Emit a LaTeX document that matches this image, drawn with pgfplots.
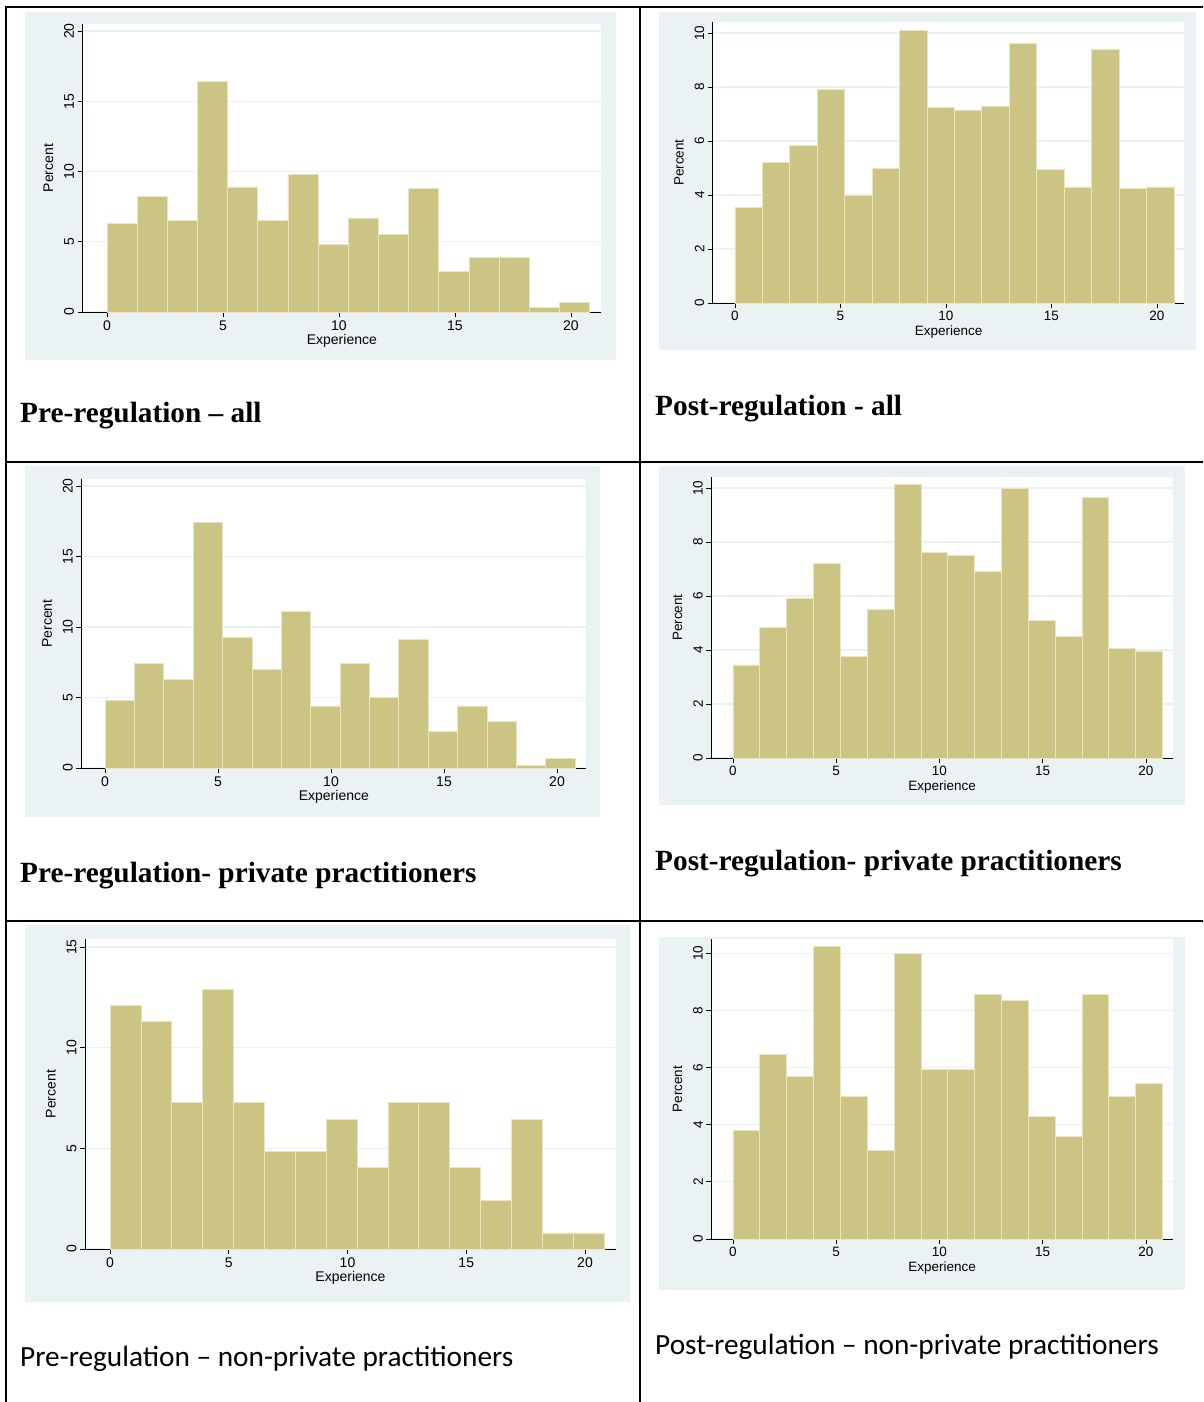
\documentclass[border=0pt]{standalone}
\usepackage{fontspec}
\setmainfont{Liberation Serif}
\newfontfamily\arial{Liberation Sans}
\newfontfamily\calibri{Carlito}
\usepackage{pgfplots}
\pgfplotsset{compat=1.18}
\definecolor{statabg}{RGB}{234,242,243}
\definecolor{khaki}{RGB}{204,196,131}
\definecolor{barline}{RGB}{233,229,194}
\definecolor{gridc}{RGB}{233,241,243}
\pgfplotsset{
  stata/.style={
    scale only axis,
    anchor=south west,
    axis x line*=bottom, axis y line*=left,
    axis line style={black, line width=0.9pt},
    axis background/.style={fill=white},
    xmin=-1.05, xmax=21.3, ymin=0,
    xtick={0,5,10,15,20},
    tick align=outside,
    major tick length=5pt,
    tick style={black, line width=0.8pt},
    ymajorgrids,
    major grid style={gridc, line width=1.2pt},
    /pgf/number format/assume math mode=true,
    tick label style={font=\arial\fontsize{14}{16}\selectfont},
    label style={font=\arial\fontsize{14}{16}\selectfont},
    yticklabel style={rotate=90, anchor=south},
    xlabel={Experience},
    ylabel={Percent},
    xlabel style={yshift=2.5pt},
    ylabel style={yshift=4pt},
  },
  hist/.style={ybar interval, fill=khaki, draw=barline, line width=0.7pt},
}
\begin{document}
\begin{tikzpicture}
\useasboundingbox (0,0) rectangle (1203pt,-1402pt);
\clip (0,0) rectangle (1203pt,-1402pt);
% panel backgrounds
\fill[statabg] (25pt,-12pt) rectangle (616pt,-360pt);
\fill[statabg] (659pt,-12pt) rectangle (1196pt,-350pt);
\fill[statabg] (25pt,-466pt) rectangle (600pt,-817pt);
\fill[statabg] (659pt,-466pt) rectangle (1185pt,-805pt);
\fill[statabg] (25pt,-925pt) rectangle (630pt,-1302pt);
\fill[statabg] (659pt,-937pt) rectangle (1185pt,-1290pt);

% Panel 1: Pre-regulation all
\begin{axis}[stata, at={(82.6pt,-312pt)}, width=518.5pt, height=288pt, ymax=20.5, ytick={0,5,10,15,20}]
\addplot[hist] coordinates {(0,6.3) (1.3,8.2) (2.6,6.5) (3.9,16.4) (5.2,8.9) (6.5,6.5) (7.8,9.8) (9.1,4.8) (10.4,6.7) (11.7,5.5) (13.0,8.8) (14.3,2.9) (15.6,3.9) (16.9,3.9) (18.2,0.3) (19.5,0.7) (20.8,0.7)};
\end{axis}

% Panel 2: Post-regulation all
\begin{axis}[stata, at={(712.8pt,-303pt)}, width=471.6pt, height=280.8pt, ymax=10.4, ytick={0,2,4,6,8,10},
  tick label style={font=\arial\fontsize{13.5}{15}\selectfont}, label style={font=\arial\fontsize{13.5}{15}\selectfont}]
\addplot[hist] coordinates {(0,3.55) (1.3,5.2) (2.6,5.85) (3.9,7.9) (5.2,4.0) (6.5,5.0) (7.8,10.1) (9.1,7.25) (10.4,7.15) (11.7,7.3) (13.0,9.6) (14.3,4.95) (15.6,4.3) (16.9,9.4) (18.2,4.25) (19.5,4.3) (20.8,4.3)};
\end{axis}

% Panel 3: Pre-regulation private
\begin{axis}[stata, at={(81.3pt,-768pt)}, width=505.1pt, height=289pt, ymax=20.5, ytick={0,5,10,15,20}]
\addplot[hist] coordinates {(0,4.8) (1.3,7.4) (2.6,6.3) (3.9,17.4) (5.2,9.3) (6.5,7.0) (7.8,11.1) (9.1,4.4) (10.4,7.4) (11.7,5.0) (13.0,9.1) (14.3,2.6) (15.6,4.4) (16.9,3.3) (18.2,0.2) (19.5,0.7) (20.8,0.7)};
\end{axis}

% Panel 4: Post-regulation private
\begin{axis}[stata, at={(711.3pt,-758pt)}, width=461.5pt, height=280.8pt, ymax=10.4, ytick={0,2,4,6,8,10},
  tick label style={font=\arial\fontsize{13.5}{15}\selectfont}, label style={font=\arial\fontsize{13.5}{15}\selectfont}]
\addplot[hist] coordinates {(0,3.45) (1.3,4.85) (2.6,5.9) (3.9,7.2) (5.2,3.75) (6.5,5.5) (7.8,10.15) (9.1,7.6) (10.4,7.5) (11.7,6.9) (13.0,10.0) (14.3,5.1) (15.6,4.5) (16.9,9.65) (18.2,4.05) (19.5,3.95) (20.8,3.95)};
\end{axis}

% Panel 5: Pre-regulation non-private
\begin{axis}[stata, at={(85.1pt,-1249pt)}, width=530.8pt, height=310pt, ymax=15.4, ytick={0,5,10,15}]
\addplot[hist] coordinates {(0,12.1) (1.3,11.3) (2.6,7.3) (3.9,12.9) (5.2,7.3) (6.5,4.85) (7.8,4.85) (9.1,6.45) (10.4,4.05) (11.7,7.3) (13.0,7.3) (14.3,4.05) (15.6,2.4) (16.9,6.45) (18.2,0.8) (19.5,0.8) (20.8,0.8)};
\end{axis}

% Panel 6: Post-regulation non-private
\begin{axis}[stata, at={(711.3pt,-1239pt)}, width=461.5pt, height=300pt, ymax=10.5, ytick={0,2,4,6,8,10},
  tick label style={font=\arial\fontsize{13.5}{15}\selectfont}, label style={font=\arial\fontsize{13.5}{15}\selectfont}]
\addplot[hist] coordinates {(0,3.8) (1.3,6.45) (2.6,5.7) (3.9,10.25) (5.2,5.0) (6.5,3.1) (7.8,10.0) (9.1,5.95) (10.4,5.95) (11.7,8.55) (13.0,8.35) (14.3,4.3) (15.6,3.6) (16.9,8.55) (18.2,5.0) (19.5,5.45) (20.8,5.45)};
\end{axis}

% table rules
\draw[black, line width=2.2pt] (5pt,-7pt) -- (1210pt,-7pt);
\draw[black, line width=2.2pt] (6pt,-6pt) -- (6pt,-1410pt);
\draw[black, line width=2.2pt] (640pt,-6pt) -- (640pt,-1410pt);
\draw[black, line width=2.2pt] (5pt,-462pt) -- (1210pt,-462pt);
\draw[black, line width=2.2pt] (5pt,-921pt) -- (1210pt,-921pt);

% captions
\node[anchor=base west, inner sep=0pt, font=\bfseries\fontsize{29.3}{34}\selectfont] at (20pt,-422pt) {Pre-regulation \textendash{} all};
\node[anchor=base west, inner sep=0pt, font=\bfseries\fontsize{29.3}{34}\selectfont] at (655pt,-415pt) {Post-regulation - all};
\node[anchor=base west, inner sep=0pt, font=\bfseries\fontsize{29.3}{34}\selectfont] at (20pt,-882pt) {Pre-regulation- private practitioners};
\node[anchor=base west, inner sep=0pt, font=\bfseries\fontsize{29.3}{34}\selectfont] at (655pt,-870pt) {Post-regulation- private practitioners};
\node[anchor=base west, inner sep=0pt, font=\calibri\fontsize{29.3}{34}\selectfont] at (20pt,-1366pt) {Pre-regulation \textendash{} non-private practitioners};
\node[anchor=base west, inner sep=0pt, font=\calibri\fontsize{29.3}{34}\selectfont] at (655pt,-1354pt) {Post-regulation \textendash{} non-private practitioners};
\end{tikzpicture}
\end{document}
